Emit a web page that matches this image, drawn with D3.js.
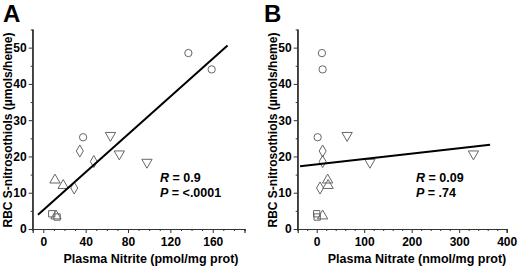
<!DOCTYPE html>
<html>
<head>
<meta charset="utf-8">
<script src="https://cdn.jsdelivr.net/npm/d3@7"></script>
<style>
  body { margin: 0; background: #fff; }
  svg text { font-family: "Liberation Sans", Arial, sans-serif; font-weight: bold; }
</style>
</head>
<body>
<svg id="chart" width="520" height="269"></svg>
<script>
// marker shape for each subject group
const shapes = ['circle', 'circle', 'circle', 'diamond', 'diamond', 'diamond',
  'down', 'down', 'down', 'up', 'up', 'up', 'square', 'square'];

// RBC S-nitrosothiols (same in both panels)
const sno = [48.5, 44, 25.3, 21.5, 18.6, 11.3, 25.8, 20.7, 18.4, 13.5, 12, 3.6, 4.2, 3.3];

// panel A: plasma nitrite
const nitrite = [137, 159, 37.6, 34.5, 47.7, 29.2, 63.4, 71.8, 97.9, 11, 18.8, 12, 8, 13];
// panel B: plasma nitrate
const nitrate = [11, 12.5, 2, 12.5, 12.5, 7, 64, 330, 112, 23, 24, 12.5, 0, 1];

// fitted lines: [x start, x end], [y start, y end]
const fitA_x = [-5, 174], fitA_y = [3.9, 50.6];
const fitB_x = [-35, 365], fitB_y = [17.3, 23.2];

const yTicks = [0, 10, 20, 30, 40, 50];
const xTicksA = [0, 40, 80, 120, 160];
const xTicksB = [0, 100, 200, 300, 400];

const svg = d3.select('#chart');
const axisColor = '#333';
const markColor = '#666';

function panel(opts) {
  const x = d3.scaleLinear().domain(opts.xDomain).range(opts.xRange);
  const y = d3.scaleLinear().domain([0, 55]).range([229, 29.5]);
  const g = svg.append('g');

  // y axis
  const yAxis = d3.axisLeft(y).tickValues(yTicks).tickSize(4).tickPadding(2).tickFormat(d3.format('d'));
  const ya = g.append('g').attr('transform', `translate(${opts.xRange[0]},0)`).call(yAxis);
  const yMinor = d3.axisLeft(y).tickValues(d3.range(5, 55, 10)).tickSize(2).tickFormat('');
  g.append('g').attr('transform', `translate(${opts.xRange[0]},0)`).call(yMinor);

  // x axis
  const xAxis = d3.axisBottom(x).tickValues(opts.xTicks).tickSize(4).tickPadding(4).tickFormat(d3.format('d'));
  g.append('g').attr('transform', `translate(0,${y(0)})`).call(xAxis);
  const xMinor = d3.axisBottom(x).tickValues(opts.minor).tickSize(2).tickFormat('');
  g.append('g').attr('transform', `translate(0,${y(0)})`).call(xMinor);

  g.selectAll('.domain').attr('stroke', axisColor).attr('stroke-width', 1.2);
  g.selectAll('.tick line').attr('stroke', axisColor);
  g.selectAll('.tick text').attr('fill', '#000').style('font-size', '12px').style('font-weight', 'bold');
  ya.select('.domain').attr('d', `M-0,${y(55)}V${y(0)}`);

  // points
  const sym = {
    circle: d3.symbol(d3.symbolCircle, 42),
    diamond: d3.symbol(d3.symbolDiamond, 42),
    square: d3.symbol(d3.symbolSquare, 40),
    up: d3.symbol(d3.symbolTriangle, 46),
    down: d3.symbol(d3.symbolTriangle, 46)
  };
  g.selectAll('path.pt').data(opts.xs).join('path')
    .attr('class', 'pt')
    .attr('d', (d, i) => sym[shapes[i]]())
    .attr('transform', (d, i) => `translate(${x(d)},${y(sno[i])})` + (shapes[i] === 'down' ? ' rotate(180)' : ''))
    .attr('fill', 'none')
    .attr('stroke', markColor)
    .attr('stroke-width', 1);

  // fit line
  g.append('line')
    .attr('x1', x(opts.fx[0])).attr('y1', y(opts.fy[0]))
    .attr('x2', x(opts.fx[1])).attr('y2', y(opts.fy[1]))
    .attr('stroke', '#000').attr('stroke-width', 2);

  // panel letter
  g.append('text').attr('x', opts.letterX).attr('y', 22).text(opts.letter)
    .style('font-size', '24px');

  // axis titles
  g.append('text')
    .attr('transform', `translate(${opts.xRange[0] - 21},${130}) rotate(-90)`)
    .attr('text-anchor', 'middle').style('font-size', '12px')
    .text('RBC S-nitrosothiols (µmols/heme)');
  g.append('text')
    .attr('x', opts.titleX).attr('y', 263)
    .attr('text-anchor', 'middle').style('font-size', '12.5px')
    .text(opts.title);

  // stats
  const st = g.append('text').attr('x', opts.statX).attr('y', 182).style('font-size', '12.5px');
  st.append('tspan').style('font-style', 'italic').text('R');
  st.append('tspan').text(' = ' + opts.r);
  const sp = g.append('text').attr('x', opts.statX).attr('y', 197).style('font-size', '12.5px');
  sp.append('tspan').style('font-style', 'italic').text('P');
  sp.append('tspan').text(' = ' + opts.p);
}

panel({
  xDomain: [-10, 190], xRange: [32.7, 244.5], xTicks: xTicksA,
  minor: d3.range(-10, 191, 10).filter(v => v % 40 !== 0),
  xs: nitrite, fx: fitA_x, fy: fitA_y,
  letter: 'A', letterX: 3, title: 'Plasma Nitrite (pmol/mg prot)', titleX: 151,
  statX: 160, r: '0.9', p: '<.0001'
});

panel({
  xDomain: [-40, 400], xRange: [297.7, 506.7], xTicks: xTicksB,
  minor: d3.range(-40, 401, 20).filter(v => v % 100 !== 0),
  xs: nitrate, fx: fitB_x, fy: fitB_y,
  letter: 'B', letterX: 264, title: 'Plasma Nitrate (nmol/mg prot)', titleX: 417,
  statX: 416, r: '0.09', p: '.74'
});
</script>
</body>
</html>
